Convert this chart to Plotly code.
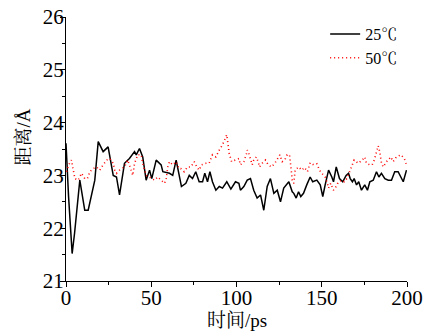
import plotly.graph_objects as go

# 25℃ series
t25 = [0, 1.5, 3.6, 5, 8.1, 11, 13, 16.9, 18.9, 21.8, 24.7, 27.7, 29.6, 31.4, 34.3, 37.2,
       40.2, 41.2, 43.1, 45, 47, 49, 50.3, 52.9, 55.8, 56.8, 60.7, 62.6, 64.6, 66.2, 67.7,
       70.3, 72.3, 74.2, 76.1, 78.1, 80.1, 81.4, 83, 84.4, 85.9, 87.9, 89.9, 91.8, 94.3,
       96.7, 99.4, 101.4, 102.3, 104.3, 106.3, 108.2, 110.1, 112.1, 114.1, 116.0, 118.0,
       119.9, 121.9, 123.9, 125.8, 127.7, 130.7, 132.7, 133.6, 135, 136.4, 137.7, 139.3,
       141.2, 143.2, 144.7, 147.1, 149.1, 150.6, 152.0, 154.0, 155.9, 156.9, 158.5, 160.4,
       162.3, 164.3, 165.7, 166.7, 168.0, 169, 170.4, 171.7, 173.3, 175.2, 176.8, 178.2,
       180.2, 182.1, 183.5, 185.0, 187.0, 189.0, 190.9, 192.8, 194.8, 196.4, 197.8, 199.7]
v25 = [23.61, 22.6, 21.52, 21.9, 22.91, 22.34, 22.34, 22.91, 23.64, 23.45, 23.54, 23.0,
       22.97, 22.63, 23.23, 23.32, 23.45, 23.39, 23.51, 23.35, 22.91, 23.1, 22.94, 23.29,
       23.2, 23.07, 23.04, 23.0, 23.29, 23.0, 22.79, 22.85, 23.0, 22.94, 23.07, 22.88,
       22.88, 23.04, 22.88, 23.07, 22.88, 22.72, 22.79, 22.76, 22.88, 22.74, 22.88, 22.85,
       22.72, 22.79, 22.91, 22.94, 22.72, 22.57, 22.63, 22.34, 22.79, 22.94, 22.66, 22.72,
       22.5, 22.76, 22.88, 22.69, 22.66, 22.57, 22.69, 22.6, 22.66, 22.82, 22.97, 22.88,
       22.91, 22.82, 22.6, 22.82, 23.1, 22.97, 22.88, 23.16, 22.94, 22.88, 23.0, 23.04,
       22.94, 22.88, 22.94, 22.82, 22.88, 22.72, 22.82, 22.72, 22.88, 22.91, 23.07, 22.97,
       23.04, 22.94, 22.91, 22.91, 23.07, 23.07, 22.97, 22.88, 23.1]

# 50℃ series
t50 = [0.3, 1.6, 3.2, 4.2, 5.2, 7.2, 9.1, 11, 12.6, 14, 16, 17.9, 19.8, 21.8, 23.8, 25.7,
       27.7, 28.6, 29.6, 31.4, 34.3, 36.2, 38.2, 39.2, 40.2, 42.1, 44.1, 45, 47, 50, 51.9,
       53.8, 55.8, 57.8, 58.8, 59.7, 60.7, 62.6, 64.6, 66.2, 67.3, 69.3, 71.3, 73.2, 75.2,
       76.7, 78.1, 79.5, 82, 84, 85.9, 87.9, 89.9, 91.8, 94.3, 95.1, 95.7, 97.1, 99.4,
       101.4, 102.3, 104.3, 105.7, 106.3, 107.2, 108.2, 109.2, 110.1, 111.6, 112.7, 113.5,
       115.1, 117, 118.6, 120.5, 122.5, 123.9, 125.4, 126.8, 128.3, 129.7, 131.1, 132.1,
       132.7, 133.6, 134.4, 136.4, 138.3, 139.9, 141.6, 143.2, 145.2, 147.1, 148.7, 150,
       152, 153, 154, 155.3, 156.9, 158.5, 159.8, 161.8, 163.2, 164.7, 166.7, 167.6, 169,
       171.4, 173.7, 175.2, 176.2, 178.2, 179.6, 180.8, 181.7, 183.1, 184, 185, 186, 188,
       190.5, 191.9, 193.8, 196.4, 198.4, 199.7]
v50 = [23.07, 23.2, 23.29, 23.07, 22.94, 22.91, 23.04, 22.94, 22.94, 23.07, 23.13, 23.16,
       23.1, 23.2, 23.29, 23.32, 23.23, 23.1, 23.04, 23.1, 23.16, 23.29, 23.1, 23.0, 23.23,
       23.39, 23.39, 23.23, 23.0, 22.94, 22.91, 22.97, 22.91, 22.85, 22.94, 23.16, 23.26,
       23.2, 23.26, 23.13, 23.13, 23.07, 23.16, 23.16, 23.26, 23.16, 23.1, 23.2, 23.23,
       23.23, 23.39, 23.35, 23.48, 23.58, 23.77, 23.61, 23.42, 23.26, 23.29, 23.32, 23.2,
       23.26, 23.39, 23.48, 23.42, 23.29, 23.2, 23.29, 23.35, 23.26, 23.16, 23.23, 23.29,
       23.2, 23.16, 23.23, 23.32, 23.39, 23.26, 23.29, 23.39, 23.39, 23.1, 22.91, 22.85,
       23.1, 23.16, 23.1, 23.15, 23.07, 23.24, 23.2, 23.22, 23.1, 23.04, 22.97, 22.88,
       22.76, 22.85, 22.72, 22.79, 22.88, 22.91, 22.88, 22.94, 23.1, 23.2, 23.29, 23.23,
       23.29, 23.35, 23.23, 23.2, 23.2, 23.29, 23.39, 23.56, 23.45, 23.24, 23.16, 23.26,
       23.35, 23.26, 23.35, 23.39, 23.32, 23.2]

series_names = ["25℃", "50℃"]
x_ticks = [0, 50, 100, 150, 200]
y_ticks = [21, 22, 23, 24, 25, 26]
x_title = "时间/ps"
y_title = "距离/Å"

FONT = "Liberation Serif, Noto Serif CJK SC, Noto Sans CJK SC, serif"

fig = go.Figure()
fig.add_trace(go.Scatter(x=t25, y=v25, mode="lines", name=series_names[0],
                         line=dict(color="black", width=1.5)))
fig.add_trace(go.Scatter(x=t50, y=v50, mode="lines", name=series_names[1],
                         line=dict(color="red", width=1.6, dash="1px,3px")))

axis_common = dict(showline=True, linecolor="black", linewidth=1, ticks="outside",
                   ticklen=5, tickwidth=1, tickcolor="black", showgrid=False,
                   zeroline=False, mirror=False, automargin=False,
                   tickfont=dict(family=FONT, size=21, color="black"))

fig.update_xaxes(range=[0, 200], tickvals=x_ticks, ticklabelstandoff=-7,
                 minor=dict(ticks="outside", ticklen=3, dtick=25, tick0=0, tickcolor="black"),
                 **axis_common)
fig.update_yaxes(range=[21, 26], tickvals=y_ticks, ticklabelstandoff=-8,
                 minor=dict(ticks="outside", ticklen=3, dtick=0.5, tick0=21, tickcolor="black"),
                 **axis_common)

fig.update_layout(
    width=428, height=333,
    margin=dict(l=66, r=21, t=17, b=52),
    paper_bgcolor="white", plot_bgcolor="white",
    font=dict(family=FONT, color="black"),
    legend=dict(x=0.76, y=1.0, xanchor="left", yanchor="top",
                bgcolor="rgba(0,0,0,0)", font=dict(family=FONT, size=16, color="black"),
                tracegroupgap=0, itemwidth=30),
    annotations=[
        dict(text=x_title, xref="paper", yref="paper", x=0.5, y=-0.148,
             xanchor="center", yanchor="middle", showarrow=False,
             font=dict(family=FONT, size=19, color="black")),
        dict(text=y_title, xref="paper", yref="paper", x=-0.125, y=0.545,
             xanchor="center", yanchor="middle", showarrow=False, textangle=-90,
             font=dict(family=FONT, size=19, color="black")),
    ],
)

fig.write_html("out.html", config={"displayModeBar": False},
               post_script="document.body.style.margin='0';")
